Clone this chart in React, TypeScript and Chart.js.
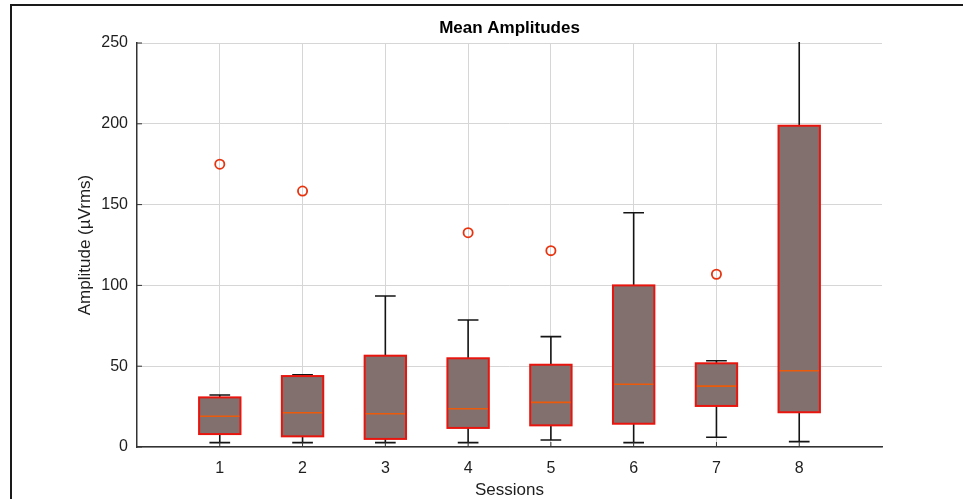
import React, { useEffect, useRef } from "react";
import { Chart, registerables } from "chart.js";

Chart.register(...registerables);

// ---- data ----
const sessions = [1, 2, 3, 4, 5, 6, 7, 8];
const sessionLabels = ["1", "2", "3", "4", "5", "6", "7", "8"];
const whiskerLow = [2.7, 2.7, 2.7, 2.7, 4.3, 2.7, 6.0, 3.3];
const q1 = [8.0, 6.6, 5.0, 11.8, 13.4, 14.4, 25.4, 21.5];
const medians = [19.0, 21.2, 20.6, 23.7, 27.6, 38.8, 37.7, 47.2];
const q3 = [30.7, 43.9, 56.5, 54.9, 50.9, 100.0, 51.8, 198.8];
const whiskerHigh = [32.2, 44.7, 93.4, 78.6, 68.3, 145.0, 53.4, 290.0];
const outlierSessions = [1, 2, 4, 5, 7];
const outlierValues = [175.0, 158.4, 132.6, 121.5, 106.9];
const yTicks = [0, 50, 100, 150, 200, 250];
const chartTitle = "Mean Amplitudes";

const FONT = "'Liberation Sans', Arial, Helvetica, sans-serif";
const TEXT = "#1e1e1e";
const AXIS = "#333333";
const GRID = "#d6d6d6";
const BOX_FILL = "#82706e";
const BOX_EDGE = "#e8150e";
const MEDIAN = "#ea5a0a";
const WHISKER = "#141414";
const OUTLIER = "#e8330f";

const frame = {
  id: "frame",
  beforeDraw(chart: any) {
    const { ctx } = chart;
    ctx.save();
    ctx.fillStyle = "#fff";
    ctx.fillRect(0, 0, chart.width, chart.height);
    ctx.fillStyle = "#1a1a1a";
    ctx.fillRect(10, 4, chart.width - 10, 2);
    ctx.fillRect(10, 4, 2, chart.height - 4);
    ctx.restore();
  },
  afterDraw(chart: any) {
    const { ctx, chartArea } = chart;
    ctx.save();
    ctx.fillStyle = "#000";
    ctx.font = `bold 17px ${FONT}`;
    ctx.textAlign = "center";
    ctx.textBaseline = "middle";
    ctx.fillText(chartTitle, (chartArea.left + chartArea.right) / 2, 28);
    ctx.restore();
  },
};

const boxes = {
  id: "boxes",
  beforeDatasetsDraw(chart: any) {
    const { ctx, chartArea } = chart;
    const x = chart.scales.x;
    const y = chart.scales.y;
    ctx.save();
    ctx.beginPath();
    ctx.rect(chartArea.left, chartArea.top - 1, chartArea.right - chartArea.left, chartArea.bottom - chartArea.top + 1);
    ctx.clip();
    sessions.forEach((s, i) => {
      const cx = x.getPixelForValue(s);
      const xl = x.getPixelForValue(s - 0.25);
      const xr = x.getPixelForValue(s + 0.25);
      const cl = x.getPixelForValue(s - 0.125);
      const cr = x.getPixelForValue(s + 0.125);
      const ylo = y.getPixelForValue(whiskerLow[i]);
      const yq1 = y.getPixelForValue(q1[i]);
      const ymed = y.getPixelForValue(medians[i]);
      const yq3 = y.getPixelForValue(q3[i]);
      const yhi = y.getPixelForValue(whiskerHigh[i]);

      ctx.strokeStyle = WHISKER;
      ctx.lineWidth = 1.6;
      ctx.beginPath();
      ctx.moveTo(cx, yq3);
      ctx.lineTo(cx, yhi);
      ctx.moveTo(cl, yhi);
      ctx.lineTo(cr, yhi);
      ctx.moveTo(cx, yq1);
      ctx.lineTo(cx, ylo);
      ctx.moveTo(cl, ylo);
      ctx.lineTo(cr, ylo);
      ctx.stroke();

      ctx.fillStyle = BOX_FILL;
      ctx.fillRect(xl, yq3, xr - xl, yq1 - yq3);
      ctx.strokeStyle = BOX_EDGE;
      ctx.lineWidth = 2;
      ctx.strokeRect(xl, yq3, xr - xl, yq1 - yq3);

      ctx.strokeStyle = MEDIAN;
      ctx.lineWidth = 1.6;
      ctx.beginPath();
      ctx.moveTo(xl + 1, ymed);
      ctx.lineTo(xr - 1, ymed);
      ctx.stroke();
    });
    ctx.restore();

    // inward tick marks
    ctx.save();
    ctx.strokeStyle = AXIS;
    ctx.lineWidth = 1;
    ctx.beginPath();
    y.ticks.forEach((t: any) => {
      const py = y.getPixelForValue(t.value);
      ctx.moveTo(chartArea.left, py);
      ctx.lineTo(chartArea.left + 5, py);
    });
    x.ticks.forEach((t: any) => {
      const px = x.getPixelForValue(t.value);
      ctx.moveTo(px, chartArea.bottom);
      ctx.lineTo(px, chartArea.bottom - 5);
    });
    ctx.stroke();
    ctx.restore();
  },
};

export default function App() {
  const ref = useRef<HTMLCanvasElement | null>(null);
  useEffect(() => {
    if (!ref.current) return;
    const chart = new Chart(ref.current, {
      type: "scatter",
      data: {
        datasets: [
          {
            label: "Outliers",
            data: outlierSessions.map((s, i) => ({ x: s, y: outlierValues[i] })),
            pointStyle: "circle",
            pointRadius: 4.6,
            pointBorderWidth: 1.8,
            pointBorderColor: OUTLIER,
            pointBackgroundColor: "rgba(0,0,0,0)",
            showLine: false,
          },
        ],
      },
      options: {
        animation: false,
        responsive: false,
        events: [],
        layout: { padding: { left: 0, right: 81, top: 43, bottom: 0 } },
        plugins: {
          legend: { display: false },
          tooltip: { enabled: false },
          title: { display: false },
        },
        scales: {
          x: {
            type: "linear",
            min: 0,
            max: 9,
            afterBuildTicks: (s: any) => {
              s.ticks = sessions.map((v) => ({ value: v }));
            },
            afterFit: (s: any) => {
              s.height = 52;
            },
            ticks: {
              callback: (v: any) => sessionLabels[sessions.indexOf(v)] ?? "",
              font: { family: FONT, size: 16 },
              color: TEXT,
              padding: 12,
              maxRotation: 0,
              autoSkip: false,
            },
            grid: { color: GRID, lineWidth: 1, drawTicks: false },
            border: { display: true, color: AXIS, width: 1.5 },
            title: {
              display: true,
              text: "Sessions",
              color: TEXT,
              font: { family: FONT, size: 17, lineHeight: 1 },
              padding: { top: 0, bottom: 0.5 },
            },
          },
          y: {
            min: 0,
            max: 250,
            afterBuildTicks: (s: any) => {
              s.ticks = yTicks.map((v) => ({ value: v }));
            },
            afterFit: (s: any) => {
              s.width = 137;
            },
            ticks: {
              font: { family: FONT, size: 16 },
              color: TEXT,
              padding: 9,
            },
            grid: { color: GRID, lineWidth: 1, drawTicks: false },
            border: { display: true, color: AXIS, width: 1.5 },
            title: {
              display: true,
              text: "Amplitude (µVrms)",
              color: TEXT,
              font: { family: FONT, size: 17, lineHeight: 1.2 },
              padding: { top: 75, bottom: 0 },
            },
          },
        },
      },
      plugins: [frame, boxes],
    } as any);
    return () => chart.destroy();
  }, []);

  return (
    <div style={{ position: "absolute", left: 0, top: 0, width: 963, height: 499, background: "#fff" }}>
      <canvas ref={ref} width={963} height={499} style={{ display: "block", width: 963, height: 499 }} />
    </div>
  );
}
